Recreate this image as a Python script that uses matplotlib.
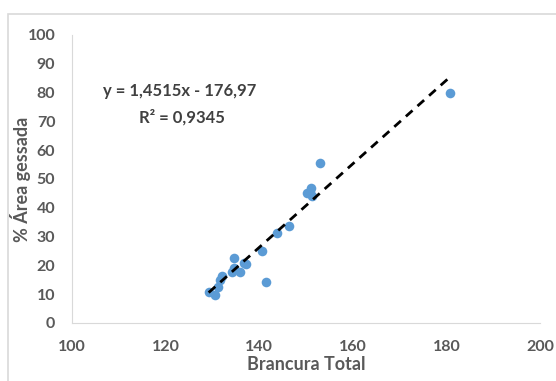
import matplotlib
matplotlib.use('Agg')
import matplotlib.pyplot as plt
from matplotlib.patches import Rectangle
import numpy as np

# dados
brancura = [129.2, 130.6, 131.1, 131.7, 132.1, 134.2, 134.6, 134.7, 135.8, 136.7,
            137.1, 140.5, 141.4, 143.7, 146.3, 150.2, 150.9, 151.1, 151.3, 153.0, 180.7]
area = [10.6, 9.6, 12.5, 15.0, 16.2, 17.6, 22.4, 19.1, 17.8, 21.0,
        20.6, 24.9, 14.2, 31.3, 33.6, 45.0, 45.5, 46.9, 44.2, 55.4, 80.0]
slope = 1.4515
intercept = -176.97
r2 = 0.9345
xticks = [100, 120, 140, 160, 180, 200]
yticks = [0, 10, 20, 30, 40, 50, 60, 70, 80, 90, 100]

plt.rcParams['font.family'] = ['Lato', 'DejaVu Sans']
txt = '#595959'
blue = '#5B9BD5'

fig = plt.figure(figsize=(5.56, 3.81), dpi=100)
fig.patches.append(Rectangle((8/556, -0.01), 1.0, 1 - 14/381 + 0.01, transform=fig.transFigure,
                             fill=False, edgecolor='#d9d9d9', linewidth=1.2))
ax = fig.add_axes([72/556, 1 - 323/381, 468/556, 288/381])

ax.scatter(brancura, area, s=48, color=blue, zorder=3, linewidths=0)
xl = np.array([min(brancura), max(brancura)])
ax.plot(xl, slope * xl + intercept, color='black', linestyle=(0, (3.2, 2.4)), linewidth=2, zorder=4)

ax.set_xlim(100, 200)
ax.set_ylim(0, 100)
ax.set_xticks(xticks)
ax.set_yticks(yticks)
for s in ['top', 'right']:
    ax.spines[s].set_visible(False)
for s in ['left', 'bottom']:
    ax.spines[s].set_color('#d9d9d9')
ax.tick_params(length=0, labelsize=11.5, labelcolor=txt)
ax.tick_params(axis='x', pad=12)
ax.tick_params(axis='y', pad=12)
for lab in ax.get_xticklabels() + ax.get_yticklabels():
    lab.set_fontweight('bold')

ax.set_xlabel('Brancura Total', fontsize=13, color=txt, fontweight='bold', labelpad=2)
ax.set_ylabel('% Área gessada', fontsize=13, color=txt, fontweight='bold')
ax.yaxis.set_label_coords(-0.088, 0.5)

eq = 'y = %sx - %s' % (str(slope).replace('.', ','), str(-intercept).replace('.', ','))
ax.text(0.23, 0.805, eq, transform=ax.transAxes, fontsize=12, color='#404040',
        fontweight='bold', ha='center', va='center')
ax.text(0.235, 0.715, 'R² = ' + str(r2).replace('.', ','), transform=ax.transAxes, fontsize=12,
        color='#404040', fontweight='bold', ha='center', va='center')

fig.savefig('out.png', dpi=100)
